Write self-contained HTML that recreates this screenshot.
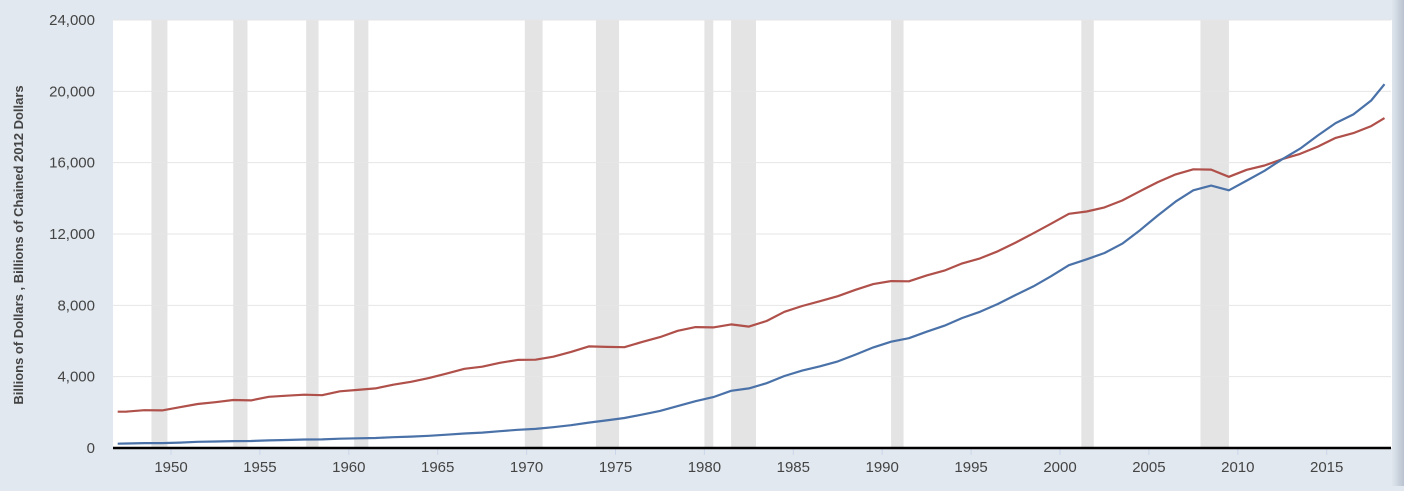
<!DOCTYPE html>
<html><head><meta charset="utf-8">
<style>
body{margin:0;width:1404px;height:486px;overflow:hidden;background:#e1e8ef;font-family:"Liberation Sans",sans-serif}
</style></head>
<body>
<svg id="chart" width="1404" height="486" xmlns="http://www.w3.org/2000/svg">
<defs><linearGradient id="rs" x1="0" x2="1"><stop offset="0" stop-color="#dfe6ee"/><stop offset="1" stop-color="#b9c3cf"/></linearGradient></defs>
<rect x="0" y="0" width="1404" height="486" fill="#e1e8ef"/>
<rect x="1392" y="0" width="12" height="486" fill="url(#rs)"/>
<rect x="113" y="20" width="1279" height="428" fill="#ffffff"/>
<g id="rec"></g><g id="grid"></g><g id="yt"></g><g id="xt"></g><g id="lines"></g>
<line x1="113" y1="448" x2="1391" y2="448" stroke="#000" stroke-width="2.5"/>
<text x="0" y="0" transform="translate(23,245) rotate(-90)" text-anchor="middle" font-size="13" font-weight="bold" fill="#444">Billions of Dollars , Billions of Chained 2012 Dollars</text>
</svg>
<script>
const recStart=[1948.9,1953.5,1957.6,1960.3,1969.9,1973.9,1980.0,1981.5,1990.5,2001.2,2007.9];
const recEnd=[1949.8,1954.3,1958.3,1961.1,1970.9,1975.2,1980.5,1982.9,1991.2,2001.9,2009.5];
const yTicks=[0,4000,8000,12000,16000,20000,24000];
const yTickLabels=["0","4,000","8,000","12,000","16,000","20,000","24,000"];
const xTicks=[1950,1955,1960,1965,1970,1975,1980,1985,1990,1995,2000,2005,2010,2015];
const years=[1947.0,1947.5,1948.5,1949.5,1950.5,1951.5,1952.5,1953.5,1954.5,1955.5,1956.5,1957.5,1958.5,1959.5,1960.5,1961.5,1962.5,1963.5,1964.5,1965.5,1966.5,1967.5,1968.5,1969.5,1970.5,1971.5,1972.5,1973.5,1974.5,1975.5,1976.5,1977.5,1978.5,1979.5,1980.5,1981.5,1982.5,1983.5,1984.5,1985.5,1986.5,1987.5,1988.5,1989.5,1990.5,1991.5,1992.5,1993.5,1994.5,1995.5,1996.5,1997.5,1998.5,1999.5,2000.5,2001.5,2002.5,2003.5,2004.5,2005.5,2006.5,2007.5,2008.5,2009.5,2010.5,2011.5,2012.5,2013.5,2014.5,2015.5,2016.5,2017.5,2018.25];
const nominal=[243,250,275,272,300,347,367,389,391,426,450,474,482,522,543,563,605,638,686,743,815,862,942,1019,1073,1165,1279,1425,1545,1684,1873,2082,2352,2627,2857,3207,3343,3634,4037,4339,4580,4855,5236,5642,5963,6158,6520,6858,7287,7640,8073,8577,9063,9631,10252,10582,10936,11458,12214,13037,13815,14452,14713,14449,14992,15543,16197,16785,17522,18219,18707,19485,20400];
const real=[2034,2040,2120,2110,2290,2470,2570,2690,2670,2870,2930,2990,2960,3180,3260,3340,3550,3710,3920,4170,4440,4560,4780,4940,4950,5120,5390,5700,5670,5650,5950,6220,6570,6780,6760,6930,6810,7120,7640,7960,8230,8510,8870,9190,9360,9350,9680,9950,10350,10630,11030,11520,12040,12580,13130,13260,13490,13880,14400,14910,15340,15630,15610,15210,15600,15840,16200,16490,16900,17390,17660,18050,18500];
const X=y=>171+(y-1950)*17.78;
const Y=v=>448-v*(428/24000);
const NS="http://www.w3.org/2000/svg";
function mk(t,a,p){const e=document.createElementNS(NS,t);for(const k in a)e.setAttribute(k,a[k]);p.appendChild(e);return e;}
const rec=document.getElementById('rec');
recStart.forEach((s,i)=>{const r=mk('rect',{x:X(s),y:20,width:X(recEnd[i])-X(s),height:428,fill:'#e4e4e4'},rec);

});
const grid=document.getElementById('grid'),yt=document.getElementById('yt');
yTicks.forEach((v,i)=>{if(v>0){const l=mk('line',{x1:113,x2:1391,y1:Y(v),y2:Y(v),stroke:'#e6e6e6','stroke-width':1},grid);

}
const t=mk('text',{x:95,y:Y(v)+5,'text-anchor':'end','font-size':15,fill:'#444'},yt);t.textContent=yTickLabels[i];

});
const xt=document.getElementById('xt');
xTicks.forEach(v=>{const l=mk('line',{x1:X(v),x2:X(v),y1:449,y2:455,stroke:'#ccd6eb'},xt);


const t=mk('text',{x:X(v),y:472,'text-anchor':'middle','font-size':15,fill:'#444'},xt);t.textContent=v;

});
const lines=document.getElementById('lines');
function path(vals,col,name){const d=vals.map((v,i)=>(i?'L':'M')+X(years[i]).toFixed(1)+','+Y(v).toFixed(1)).join('');
const p=mk('path',{d:d,fill:'none',stroke:col,'stroke-width':2.2,'stroke-linejoin':'round'},lines);

}
path(real,'#b0504a','real-gdp-line');
path(nominal,'#4a72a8','nominal-gdp-line');
</script>
</body></html>
